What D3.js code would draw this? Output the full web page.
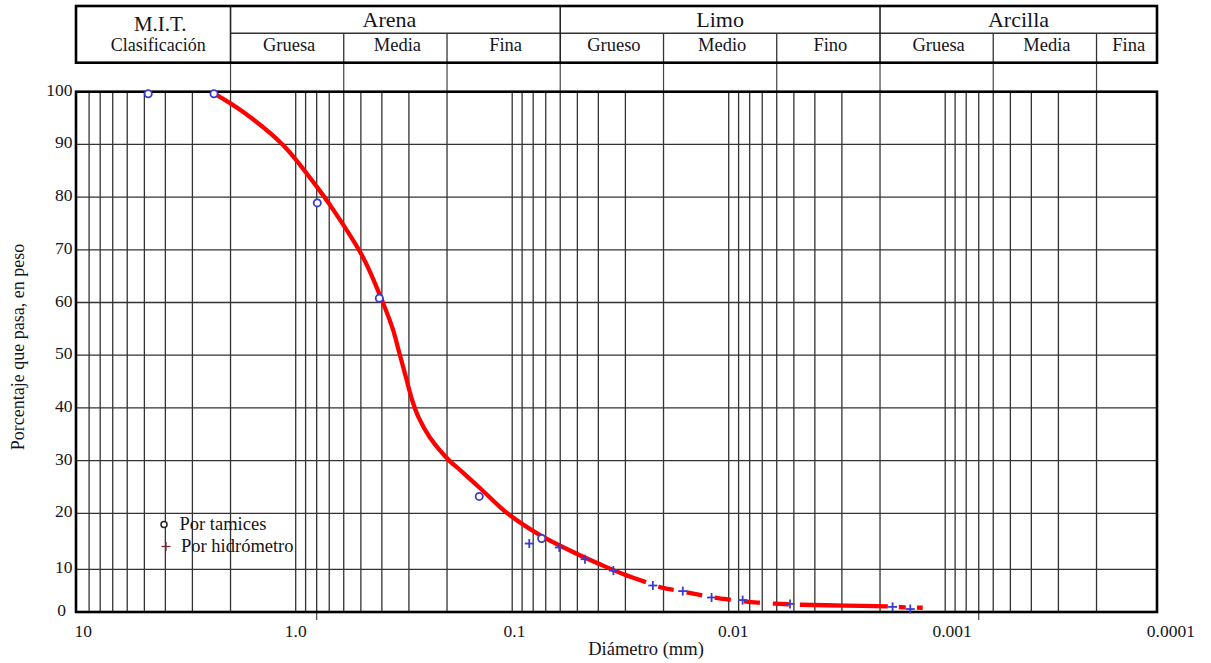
<!DOCTYPE html>
<html><head><meta charset="utf-8">
<script src="https://cdn.jsdelivr.net/npm/d3@7"></script>
<style>
body{margin:0;background:#fff}
svg{display:block}
text{font-family:"Liberation Serif","Times New Roman",serif;fill:#141420}
</style>
</head><body>
<svg id="c" width="1211" height="663"></svg>
<script>
// ---------------- data ----------------
const decadeValues = [10, 1, 0.1, 0.01, 0.001, 0.0001];
const decadeLabels = ["10", "1.0", "0.1", "0.01", "0.001", "0.0001"];
const yTickValues = [0, 10, 20, 30, 40, 50, 60, 70, 80, 90, 100];
const extraTickValues = [0.8, 0.0007];

// M.I.T. classification (mm)
const groupNames = ["Arena", "Limo", "Arcilla"];
const groupFrom  = [2, 0.06, 0.002];
const groupTo    = [0.06, 0.002, 0.0001];
const subNames = ["Gruesa", "Media", "Fina", "Grueso", "Medio", "Fino", "Gruesa", "Media", "Fina"];
const subFrom  = [2, 0.6, 0.2, 0.06, 0.02, 0.006, 0.002, 0.0006, 0.0002];
const subTo    = [0.6, 0.2, 0.06, 0.02, 0.006, 0.002, 0.0006, 0.0002, 0.0001];

// Por tamices (sieve)
const sieveD = [4.80, 2.385, 0.795, 0.411, 0.142, 0.0731];
const sieveP = [99.6, 99.6, 78.9, 60.8, 23.2, 15.5];
// Por hidrómetro
const hydroD = [0.0834, 0.0606, 0.0461, 0.0341, 0.0224, 0.0163, 0.0120, 0.00862, 0.00521, 0.00175, 0.00145];
const hydroP = [14.6, 13.9, 11.8, 9.7, 6.2, 4.9, 3.4, 2.8, 1.9, 1.2, 0.7];

// grading curve
const curveD = [2.385, 1.752, 1.145, 0.797, 0.694, 0.489, 0.395, 0.355, 0.333, 0.309, 0.290, 0.270, 0.240,
                0.194, 0.174, 0.141, 0.106, 0.0744, 0.0524, 0.0393, 0.0308, 0.0241, 0.0203, 0.0171, 0.0136,
                0.0103, 0.00732, 0.0058, 0.00469, 0.0029, 0.00184, 0.00153, 0.00127];
const curveP = [99.7, 96.2, 89.9, 81.9, 78.5, 68.6, 59.9, 54.8, 50.6, 45.7, 41.5, 38.1, 34.4,
                29.9, 28.2, 24.8, 20.1, 16.1, 13.1, 10.9, 8.9, 7.0, 5.7, 5.0, 4.0,
                3.0, 2.2, 1.9, 1.7, 1.5, 1.3, 1.1, 1.0];
// curve drawing pieces (diameter ranges) and whether dashed
const pieceFrom = [2.385, 0.0241, 0.00469, 0.00184];
const pieceTo   = [0.0241, 0.00469, 0.00184, 0.00127];
const pieceDash = ["none", "16 13", "none", "7 11"];
const pieceOffset = [0, 16, 0, 7];

const legendLabels = ["Por tamices", "Por hidrómetro"];

// ---------------- layout ----------------
const svg = d3.select("#c");
const frame = {left: 76, right: 1157, top: 91.7, bottom: 612};
const header = {top: 6, mid: 33.3, bottom: 62.7};

const x = d3.scaleLog().domain([10, 0.0001]).range([79.2, 1161.7]);
const y = d3.scaleLinear().domain([0, 10, 20, 100]).range([frame.bottom, 569.3, 513.3, frame.top]);
const cx = v => Math.min(frame.right, x(v));

svg.append("rect").attr("width", 1211).attr("height", 663).attr("fill", "#fff");

// ---------------- grid ----------------
const g = svg.append("g");
const vTicks = x.ticks().filter(v => v < 9.99 && v > 0.000101);
g.selectAll("line.v").data(vTicks).join("line")
  .attr("x1", d => x(d)).attr("x2", d => x(d))
  .attr("y1", frame.top).attr("y2", frame.bottom)
  .attr("stroke", "#333").attr("stroke-width", 1.3);
g.selectAll("line.h").data(yTickValues.filter(v => v > 0 && v < 100)).join("line")
  .attr("x1", frame.left).attr("x2", frame.right)
  .attr("y1", d => y(d)).attr("y2", d => y(d))
  .attr("stroke", "#333").attr("stroke-width", 1.3);
// small ticks below axis
g.selectAll("line.t").data(extraTickValues).join("line")
  .attr("x1", d => x(d)).attr("x2", d => x(d))
  .attr("y1", frame.bottom).attr("y2", frame.bottom + 8)
  .attr("stroke", "#444").attr("stroke-width", 1.2);
// connectors header -> plot
g.selectAll("line.cn").data(subFrom).join("line")
  .attr("x1", d => x(d)).attr("x2", d => x(d))
  .attr("y1", header.bottom).attr("y2", frame.top)
  .attr("stroke", "#444").attr("stroke-width", 1.2);

// frame
svg.append("rect").attr("x", frame.left).attr("y", frame.top)
  .attr("width", frame.right - frame.left).attr("height", frame.bottom - frame.top)
  .attr("fill", "none").attr("stroke", "#000").attr("stroke-width", 2.6);

// ---------------- header table ----------------
const h = svg.append("g");
h.append("line").attr("x1", x(2)).attr("x2", frame.right).attr("y1", header.mid).attr("y2", header.mid)
  .attr("stroke", "#333").attr("stroke-width", 1.5);
h.selectAll("line.gd").data(groupFrom).join("line")
  .attr("x1", d => x(d)).attr("x2", d => x(d)).attr("y1", header.top).attr("y2", header.bottom)
  .attr("stroke", "#222").attr("stroke-width", 1.6);
h.selectAll("line.sd").data(subFrom.filter(v => !groupFrom.includes(v))).join("line")
  .attr("x1", d => x(d)).attr("x2", d => x(d)).attr("y1", header.mid).attr("y2", header.bottom)
  .attr("stroke", "#333").attr("stroke-width", 1.3);
h.append("rect").attr("x", frame.left).attr("y", header.top)
  .attr("width", frame.right - frame.left).attr("height", header.bottom - header.top)
  .attr("fill", "none").attr("stroke", "#000").attr("stroke-width", 2.6);
const mitC = (frame.left + x(2)) / 2 + 7;
h.append("text").attr("x", mitC).attr("y", 30.5).attr("text-anchor", "middle")
  .style("font-size", "21px").text("M.I.T.");
h.append("text").attr("x", mitC - 2).attr("y", 50.5).attr("text-anchor", "middle")
  .style("font-size", "18px").text("Clasificación");
h.selectAll("text.gn").data(groupNames).join("text")
  .attr("x", (d, i) => (cx(groupFrom[i]) + cx(groupTo[i])) / 2 - (i === 0 ? 6 : 0))
  .attr("y", 27).attr("text-anchor", "middle").style("font-size", "22px").text(d => d);
h.selectAll("text.sn").data(subNames).join("text")
  .attr("x", (d, i) => (cx(subFrom[i]) + cx(subTo[i])) / 2 + 2)
  .attr("y", 51).attr("text-anchor", "middle").style("font-size", "18.5px").text(d => d);

// ---------------- axes labels ----------------
svg.selectAll("text.yl").data(yTickValues).join("text")
  .attr("x", d => d === 0 ? 66 : 72.5)
  .attr("y", d => y(d) - 2).attr("dominant-baseline", "central")
  .attr("text-anchor", "end").style("font-size", "17.5px").text(d => d);
svg.selectAll("text.xl").data(decadeValues).join("text")
  .attr("x", (d, i) => x(d) + (i === 0 ? 4 : (i - 1) * 2.3))
  .attr("y", 637).attr("text-anchor", "middle").style("font-size", "17.5px")
  .text((d, i) => decadeLabels[i]);
svg.append("text").attr("x", 646).attr("y", 655).attr("text-anchor", "middle")
  .style("font-size", "18.5px").text("Diámetro (mm)");
svg.append("text").attr("transform", "translate(18,347) rotate(-90)")
  .attr("text-anchor", "middle").attr("dominant-baseline", "central")
  .style("font-size", "18px").text("Porcentaje que pasa, en peso");

// ---------------- curve ----------------
const pts = curveD.map((d, i) => ({d, p: curveP[i]}));
const line = d3.line().x(d => x(d.d)).y(d => y(d.p)).curve(d3.curveCatmullRom.alpha(0.5));
pieceFrom.forEach((f, i) => {
  const seg = pts.filter(q => q.d <= f * 1.0001 && q.d >= pieceTo[i] * 0.9999);
  svg.append("path").attr("d", line(seg)).attr("fill", "none")
    .attr("stroke", "#ff0000").attr("stroke-width", 4.3)
    .attr("stroke-dasharray", pieceDash[i]).attr("stroke-dashoffset", pieceOffset[i]);
});

// ---------------- markers ----------------
const blue = "#3b3bd0";
svg.selectAll("circle.s").data(sieveD).join("circle")
  .attr("cx", d => x(d)).attr("cy", (d, i) => y(sieveP[i])).attr("r", 3.6)
  .attr("fill", "#fff").attr("stroke", blue).attr("stroke-width", 1.8);
const plus = svg.selectAll("g.hy").data(hydroD).join("g")
  .attr("transform", (d, i) => `translate(${x(d)},${y(hydroP[i])})`);
plus.append("line").attr("x1", -4.5).attr("x2", 4.5).attr("stroke", blue).attr("stroke-width", 1.8);
plus.append("line").attr("y1", -4.5).attr("y2", 4.5).attr("stroke", blue).attr("stroke-width", 1.8);

// ---------------- legend ----------------
const lg = svg.append("g");
lg.append("circle").attr("cx", 164).attr("cy", 524.5).attr("r", 3)
  .attr("fill", "#fff").attr("stroke", "#222").attr("stroke-width", 1.5);
lg.append("line").attr("x1", 161.5).attr("x2", 170.5).attr("y1", 546.5).attr("y2", 546.5)
  .attr("stroke", "#7a2838").attr("stroke-width", 1.3);
lg.append("line").attr("x1", 166).attr("x2", 166).attr("y1", 542).attr("y2", 551)
  .attr("stroke", "#7a2838").attr("stroke-width", 1.3);
lg.selectAll("text").data(legendLabels).join("text")
  .attr("x", (d, i) => 179.5 + i * 1.5).attr("y", (d, i) => 530 + i * 21.7)
  .style("font-size", "18.5px").text(d => d);
</script>
</body></html>
